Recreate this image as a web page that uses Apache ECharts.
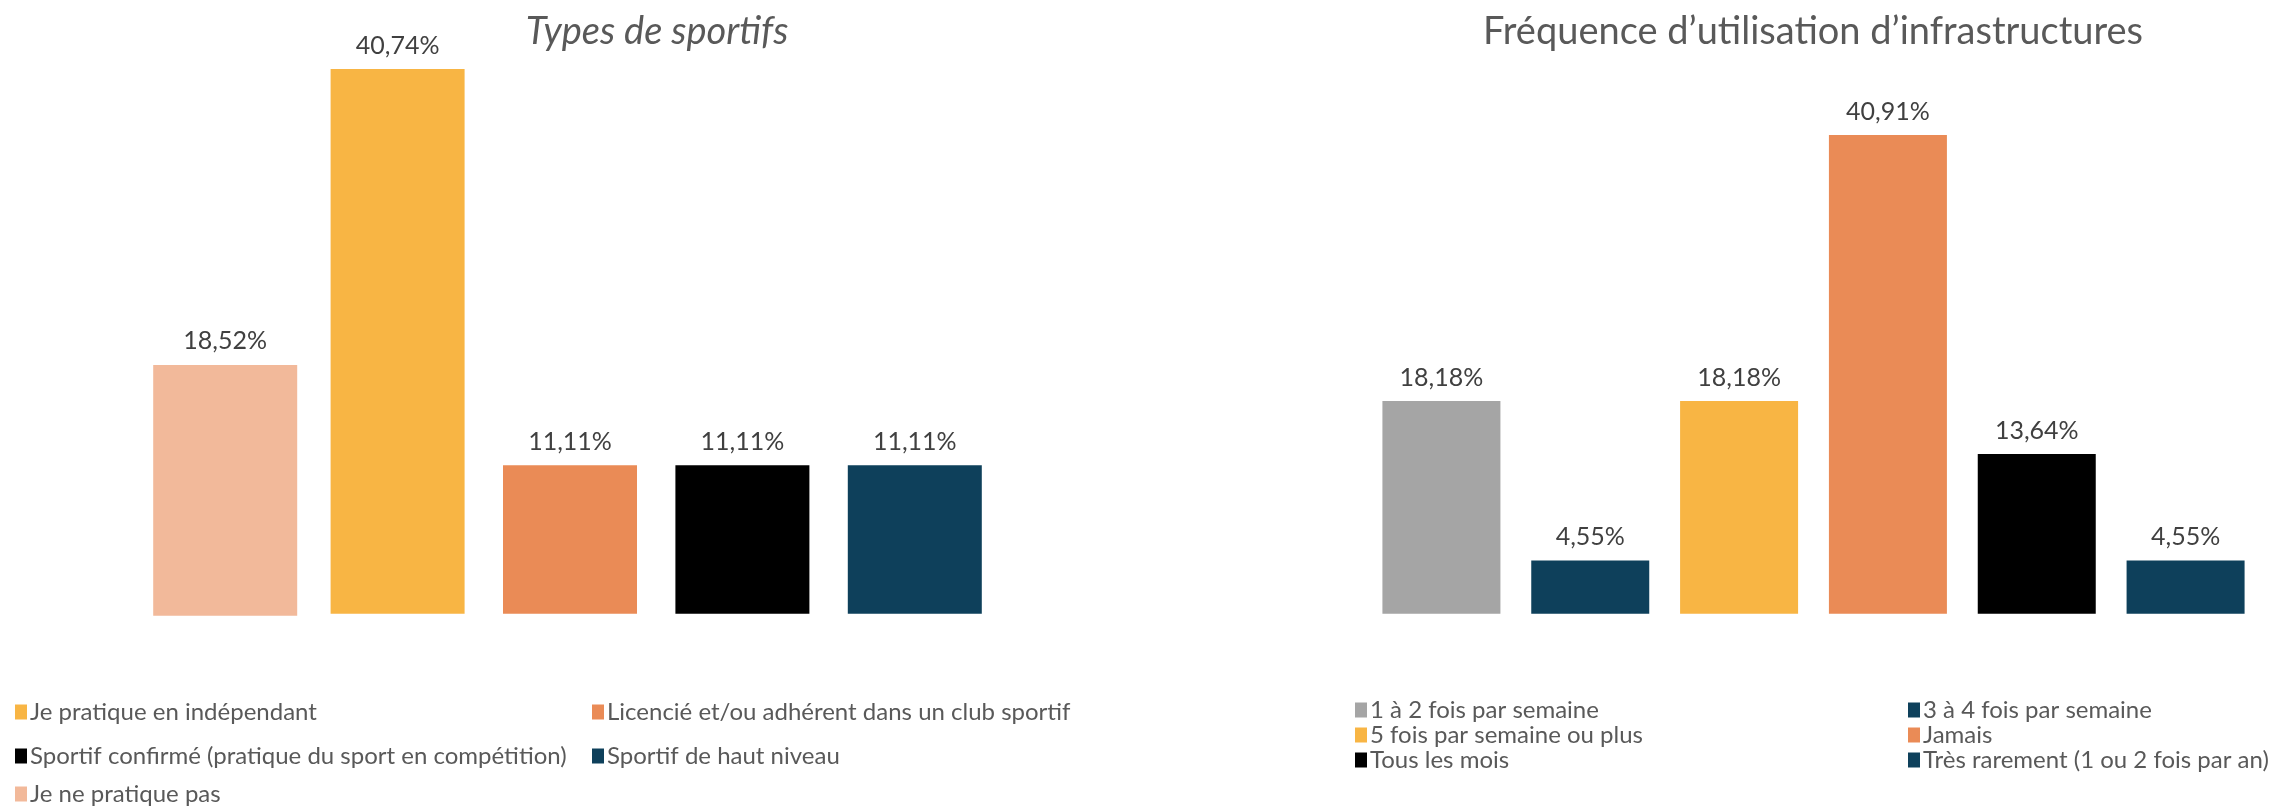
<!DOCTYPE html>
<html>
<head>
<meta charset="utf-8">
<script src="https://cdn.jsdelivr.net/npm/echarts@6/dist/echarts.min.js"></script>
<style>
  html, body { margin: 0; padding: 0; background: #fff; }
  #chart { width: 2284px; height: 806px; }
</style>
</head>
<body>
<div id="chart"></div>
<script>
// Types de sportifs
const sportCategories = [
  'Je ne pratique pas',
  'Je pratique en indépendant',
  'Licencié et/ou adhérent dans un club sportif',
  'Sportif confirmé (pratique du sport en compétition)',
  'Sportif de haut niveau'
];
const sportValues = [18.52, 40.74, 11.11, 11.11, 11.11];
const sportColors = ['#F2B99A', '#F8B544', '#EA8B56', '#000000', '#0E405B'];

// Fréquence d'utilisation d'infrastructures
const infraCategories = [
  '1 à 2 fois par semaine',
  '3 à 4 fois par semaine',
  '5 fois par semaine ou plus',
  'Jamais',
  'Tous les mois',
  'Très rarement (1 ou 2 fois par an)'
];
const infraValues = [18.18, 4.55, 18.18, 40.91, 13.64, 4.55];
const infraColors = ['#A5A5A5', '#0E405B', '#F8B544', '#EA8B56', '#000000', '#0E405B'];

const FONT = 'Lato';
const TEXT = '#595959';
const LABEL = '#404040';

const fmt = v => v.toFixed(2).replace('.', ',') + '%';

function oneBar(values, i) {
  return values.map((v, j) => (j === i ? v : '-'));
}

const chart = echarts.init(document.getElementById('chart'), null, { renderer: 'canvas' });

const grids = [
  { left: 139, width: 862, top: 25.4, height: 588.3 },   // left chart
  { left: 139, width: 862, top: 19.9, height: 595.8 },   // left chart, first column
  { left: 1367, width: 893, top: 28.7, height: 585 }     // right chart
];

const hiddenCat = (cats, gi) => ({
  type: 'category', gridIndex: gi, data: cats,
  axisLine: { show: false }, axisTick: { show: false }, axisLabel: { show: false }
});
const hiddenVal = (gi, max) => ({
  type: 'value', gridIndex: gi, min: 0, max: max,
  splitLine: { show: false }, axisLine: { show: false }, axisTick: { show: false }, axisLabel: { show: false }
});

const labelStyle = {
  show: true, position: 'top', distance: 11,
  fontFamily: FONT, fontSize: 25, color: LABEL,
  formatter: p => fmt(p.value)
};

const series = [];
sportCategories.forEach((name, i) => {
  const first = i === 0;
  series.push({
    name: name, type: 'bar',
    xAxisIndex: first ? 1 : 0, yAxisIndex: first ? 1 : 0,
    stack: first ? 'pas' : 'types',
    barWidth: first ? 144 : 134,
    data: oneBar(sportValues, i),
    itemStyle: { color: sportColors[i] },
    label: labelStyle,
    animation: false
  });
});
infraCategories.forEach((name, i) => {
  series.push({
    name: name, type: 'bar',
    xAxisIndex: 2, yAxisIndex: 2,
    stack: 'infra',
    barWidth: 118,
    data: oneBar(infraValues, i),
    itemStyle: { color: infraColors[i] },
    label: labelStyle,
    animation: false
  });
});

// Legend entries placed in columns: [name, left, centre y]
const sportLegend = [
  [sportCategories[1], 15, 712],
  [sportCategories[2], 592, 712],
  [sportCategories[3], 15, 756],
  [sportCategories[4], 592, 756],
  [sportCategories[0], 15, 794]
];
const infraLegend = [
  [infraCategories[0], 1355, 710],
  [infraCategories[1], 1908, 710],
  [infraCategories[2], 1355, 735],
  [infraCategories[3], 1908, 735],
  [infraCategories[4], 1355, 760],
  [infraCategories[5], 1908, 760]
];
const legends = sportLegend.concat(infraLegend).map(([name, x, cy]) => ({
  data: [name], left: x, top: cy - 12, padding: 0,
  icon: 'rect', itemWidth: 12, itemHeight: 15, selectedMode: false,
  textStyle: { fontFamily: FONT, fontSize: 24, color: TEXT, lineHeight: 24, padding: [0, 0, 0, -2] }
}));

chart.setOption({
  backgroundColor: '#ffffff',
  animation: false,
  title: [
    { text: 'Types de sportifs', left: 657, top: 13, textAlign: 'center', padding: 0,
      textStyle: { fontFamily: FONT, fontSize: 38, fontStyle: 'italic', fontWeight: 'normal', color: TEXT } },
    { text: 'Fréquence d’utilisation d’infrastructures', left: 1813, top: 13, textAlign: 'center', padding: 0,
      textStyle: { fontFamily: FONT, fontSize: 38, fontWeight: 'normal', color: TEXT } }
  ],
  legend: legends,
  grid: grids,
  xAxis: [hiddenCat(sportCategories, 0), hiddenCat(sportCategories, 1), hiddenCat(infraCategories, 2)],
  yAxis: [hiddenVal(0, 44), hiddenVal(1, 44), hiddenVal(2, 50)],
  series: series
});
</script>
</body>
</html>
